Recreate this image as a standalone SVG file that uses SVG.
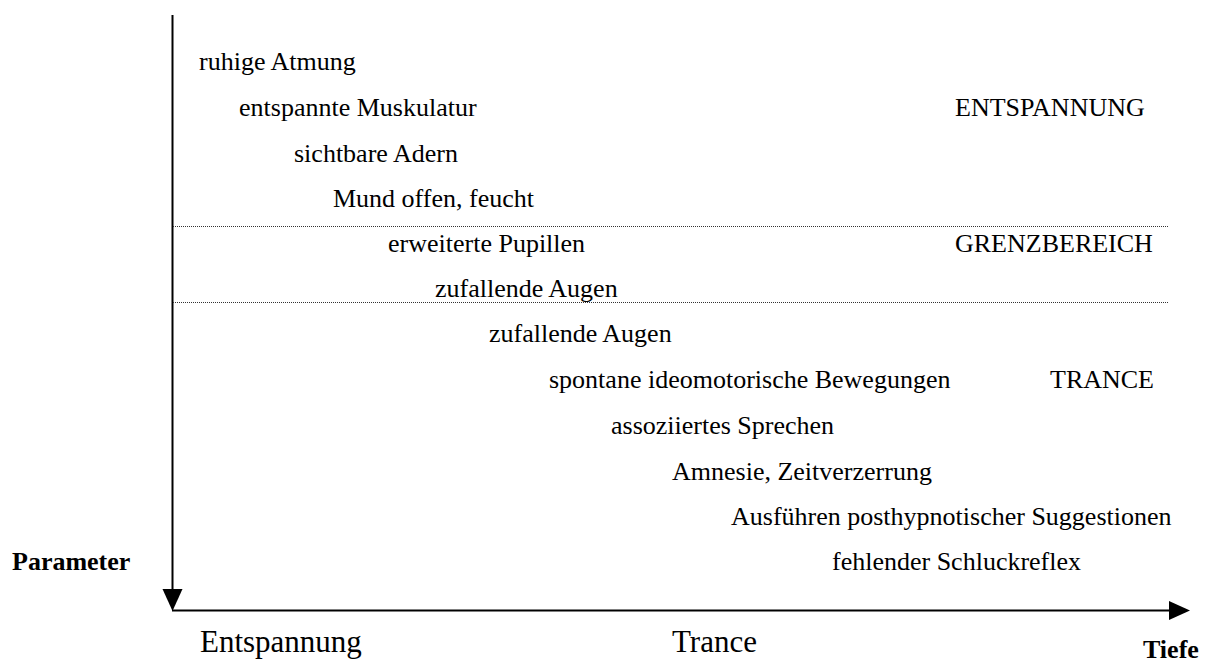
<svg xmlns="http://www.w3.org/2000/svg" width="1209" height="664" viewBox="0 0 1209 664">
<style>
text{font-family:"Liberation Serif","Times New Roman",serif;fill:#000}
.t{font-size:26px}
.b{font-size:26px;font-weight:bold}
.big{font-size:31px}
.axis{stroke:#000;stroke-width:2;fill:none}
.dot{stroke:#333;stroke-width:1;stroke-dasharray:1 1;fill:none}
</style>
<rect width="1209" height="664" fill="#fff"/>
<g id="connectors">
<line class="axis" x1="172.5" y1="15" x2="172.5" y2="592"/>
<polygon points="162.5,589 182.5,589 172.5,611" fill="#000"/>
<line class="axis" x1="172" y1="610.5" x2="1172" y2="610.5"/>
<polygon points="1169,601 1169,620 1190,610.5" fill="#000"/>
<line class="dot" x1="173" y1="226.5" x2="1168" y2="226.5"/>
<line class="dot" x1="173" y1="302.5" x2="1168" y2="302.5"/>
</g>
<g id="items">
<text class="t" x="199" y="70">ruhige Atmung</text>
<text class="t" x="239" y="116">entspannte Muskulatur</text>
<text class="t" x="294" y="162">sichtbare Adern</text>
<text class="t" x="333" y="207">Mund offen, feucht</text>
<text class="t" x="388" y="252">erweiterte Pupillen</text>
<text class="t" x="435" y="297">zufallende Augen</text>
<text class="t" x="489" y="342">zufallende Augen</text>
<text class="t" x="549" y="388">spontane ideomotorische Bewegungen</text>
<text class="t" x="611" y="434">assoziiertes Sprechen</text>
<text class="t" x="672" y="480">Amnesie, Zeitverzerrung</text>
<text class="t" x="731" y="525">Ausführen posthypnotischer Suggestionen</text>
<text class="t" x="832" y="570">fehlender Schluckreflex</text>
</g>
<g id="zones">
<text class="t" x="955" y="116">ENTSPANNUNG</text>
<text class="t" x="955" y="252">GRENZBEREICH</text>
<text class="t" x="1050" y="388">TRANCE</text>
</g>
<g id="axis-labels">
<text class="b" x="12" y="570">Parameter</text>
<text class="big" x="200" y="652">Entspannung</text>
<text class="big" x="672" y="652">Trance</text>
<text class="b" x="1143" y="658">Tiefe</text>
</g>
</svg>
